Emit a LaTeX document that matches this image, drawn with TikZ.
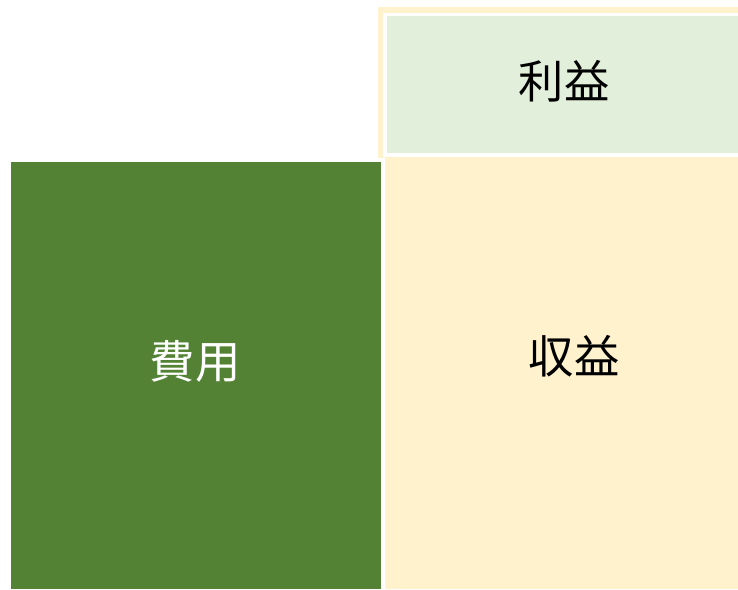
\documentclass[tikz,border=0pt]{standalone}
\usepackage{fontspec}
\newfontfamily\jpfont{Noto Sans CJK JP}
\usepackage{tikz}
\usetikzlibrary{positioning}

\definecolor{costgreen}{HTML}{548235}
\definecolor{revbeige}{HTML}{FFF2CC}
\definecolor{profitgreen}{HTML}{E2EFDA}
\tikzset{
  labeltext/.style={font=\jpfont\fontsize{34}{40}\selectfont, inner sep=0pt},
}

\begin{document}
\begin{tikzpicture}[x=0.75pt, y=-0.75pt]
  \useasboundingbox (0,0) rectangle (738,589);

  % revenue side
  \fill[revbeige] (378,7) rectangle (738,158);
  \fill[revbeige] (385,157) rectangle (738,589);
  \fill[white] (383,13) rectangle (738,157);
  \fill[profitgreen] (387,16) rectangle (738,153);

  % cost side
  \fill[costgreen] (11,162) rectangle (381,589);

  \node [labeltext, text=white] (cost) at (195,361) {費用};
  \node [labeltext] (revenue) at (574,356) {収益};
  \node [labeltext] (profit) at (564,81) {利益};
\end{tikzpicture}
\end{document}
